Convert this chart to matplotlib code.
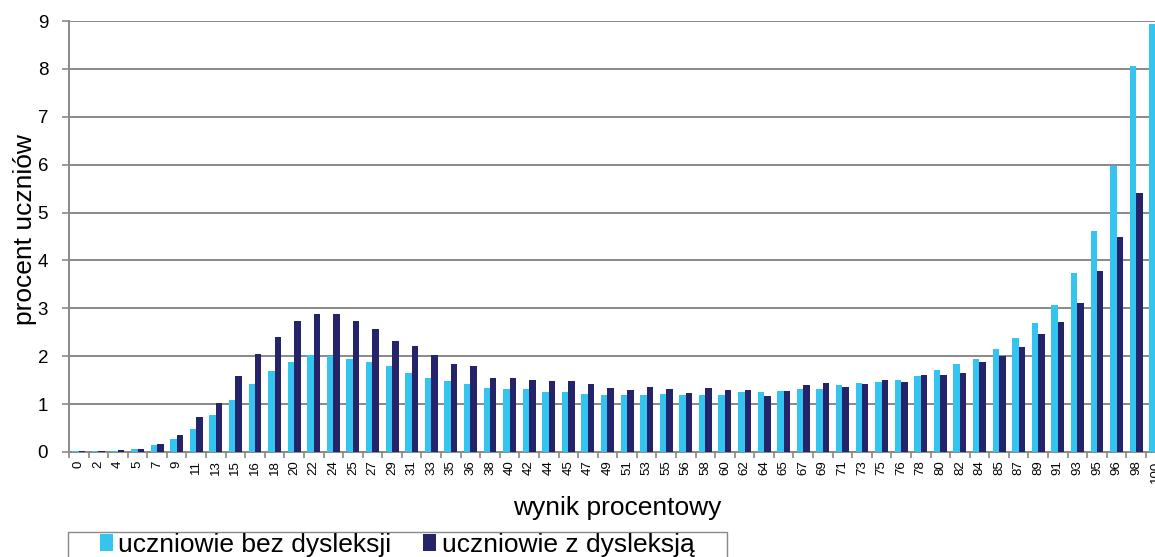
from matplotlib import pyplot as plt
from matplotlib.patches import Rectangle
import numpy as np

plt.rcParams['font.family'] = ['Liberation Sans', 'DejaVu Sans']

labels = ['0', '2', '4', '5', '7', '9', '11', '13', '15', '16', '18', '20', '22', '24',
          '25', '27', '29', '31', '33', '35', '36', '38', '40', '42', '44', '45', '47',
          '49', '51', '53', '55', '56', '58', '60', '62', '64', '65', '67', '69', '71',
          '73', '75', '76', '78', '80', '82', '84', '85', '87', '89', '91', '93', '95',
          '96', '98', '100']
bez = [0.02, 0.02, 0.03, 0.06, 0.14, 0.27, 0.48, 0.77, 1.08, 1.43, 1.69, 1.87, 2.02, 2.01,
       1.94, 1.87, 1.79, 1.64, 1.54, 1.48, 1.41, 1.34, 1.31, 1.31, 1.26, 1.25, 1.22,
       1.20, 1.20, 1.20, 1.22, 1.20, 1.20, 1.20, 1.25, 1.26, 1.28, 1.31, 1.31, 1.39,
       1.45, 1.46, 1.51, 1.59, 1.71, 1.83, 1.95, 2.15, 2.39, 2.69, 3.08, 3.74, 4.61,
       5.97, 8.05, 8.94]
z_dysl = [0.02, 0.02, 0.04, 0.07, 0.16, 0.36, 0.73, 1.03, 1.59, 2.04, 2.40, 2.74, 2.89, 2.89,
          2.73, 2.56, 2.32, 2.22, 2.02, 1.83, 1.80, 1.54, 1.55, 1.50, 1.48, 1.49, 1.43,
          1.34, 1.29, 1.36, 1.31, 1.24, 1.33, 1.29, 1.30, 1.17, 1.28, 1.39, 1.44, 1.36,
          1.42, 1.51, 1.47, 1.61, 1.60, 1.65, 1.87, 2.00, 2.20, 2.47, 2.72, 3.12, 3.77,
          4.50, 5.40, 4.74]

c_light = '#33C5F0'
c_dark = '#25246B'
grid_c = '#898989'

W, H = 1155, 557
fig = plt.figure(figsize=(W / 100, H / 100), dpi=100)
# right edge goes past the figure, the original is cut off there
ax = fig.add_axes([69 / W, 1 - 452 / H, 1096.5 / W, 431 / H])

x = np.arange(len(labels))
w = 0.33
ax.bar(x - w / 2, bez, w, color=c_light, label='uczniowie bez dysleksji', zorder=3)
ax.bar(x + w / 2, z_dysl, w, color=c_dark, label='uczniowie z dysleksją', zorder=3)

ax.set_xlim(-0.5, len(labels) - 0.5)
ax.set_ylim(0, 9)
ax.set_yticks(range(10))
ax.yaxis.grid(True, color=grid_c, lw=1.4, zorder=0)

ax.set_xticks(x)
ax.set_xticklabels(labels, rotation=90, fontsize=9.5)
ax.set_xticks(np.arange(-0.5, len(labels), 1), minor=True)
ax.tick_params(axis='x', which='major', length=0, pad=6)
ax.tick_params(axis='x', which='minor', length=4, color=grid_c, width=1.2)
ax.tick_params(axis='y', labelsize=13.5, length=5, color=grid_c, width=1.2, pad=10)

for s in ['top', 'right']:
    ax.spines[s].set_visible(False)
for s in ['left', 'bottom']:
    ax.spines[s].set_color(grid_c)
    ax.spines[s].set_linewidth(1.4)

fig.text(25 / W, 1 - 230 / H, 'procent uczniów', fontsize=19, rotation=90,
         ha='center', va='center')
fig.text(617 / W, 1 - 508 / H, 'wynik procentowy', fontsize=19,
         ha='center', va='center')

# legend frame, its bottom is cut off by the image edge
fig.patches.append(Rectangle((68 / W, -0.05), 659 / W, 0.05 + 1 - 532 / H,
                             transform=fig.transFigure, fill=False,
                             edgecolor=grid_c, lw=1.0))
fig.legend(loc='upper left', bbox_to_anchor=(100 / W, 1 - 533 / H),
           ncol=2, fontsize=19, frameon=False,
           handlelength=0.5, handleheight=0.6, handletextpad=0.2,
           columnspacing=1.2, borderpad=0, borderaxespad=0)

fig.savefig('out.png', dpi=100)
